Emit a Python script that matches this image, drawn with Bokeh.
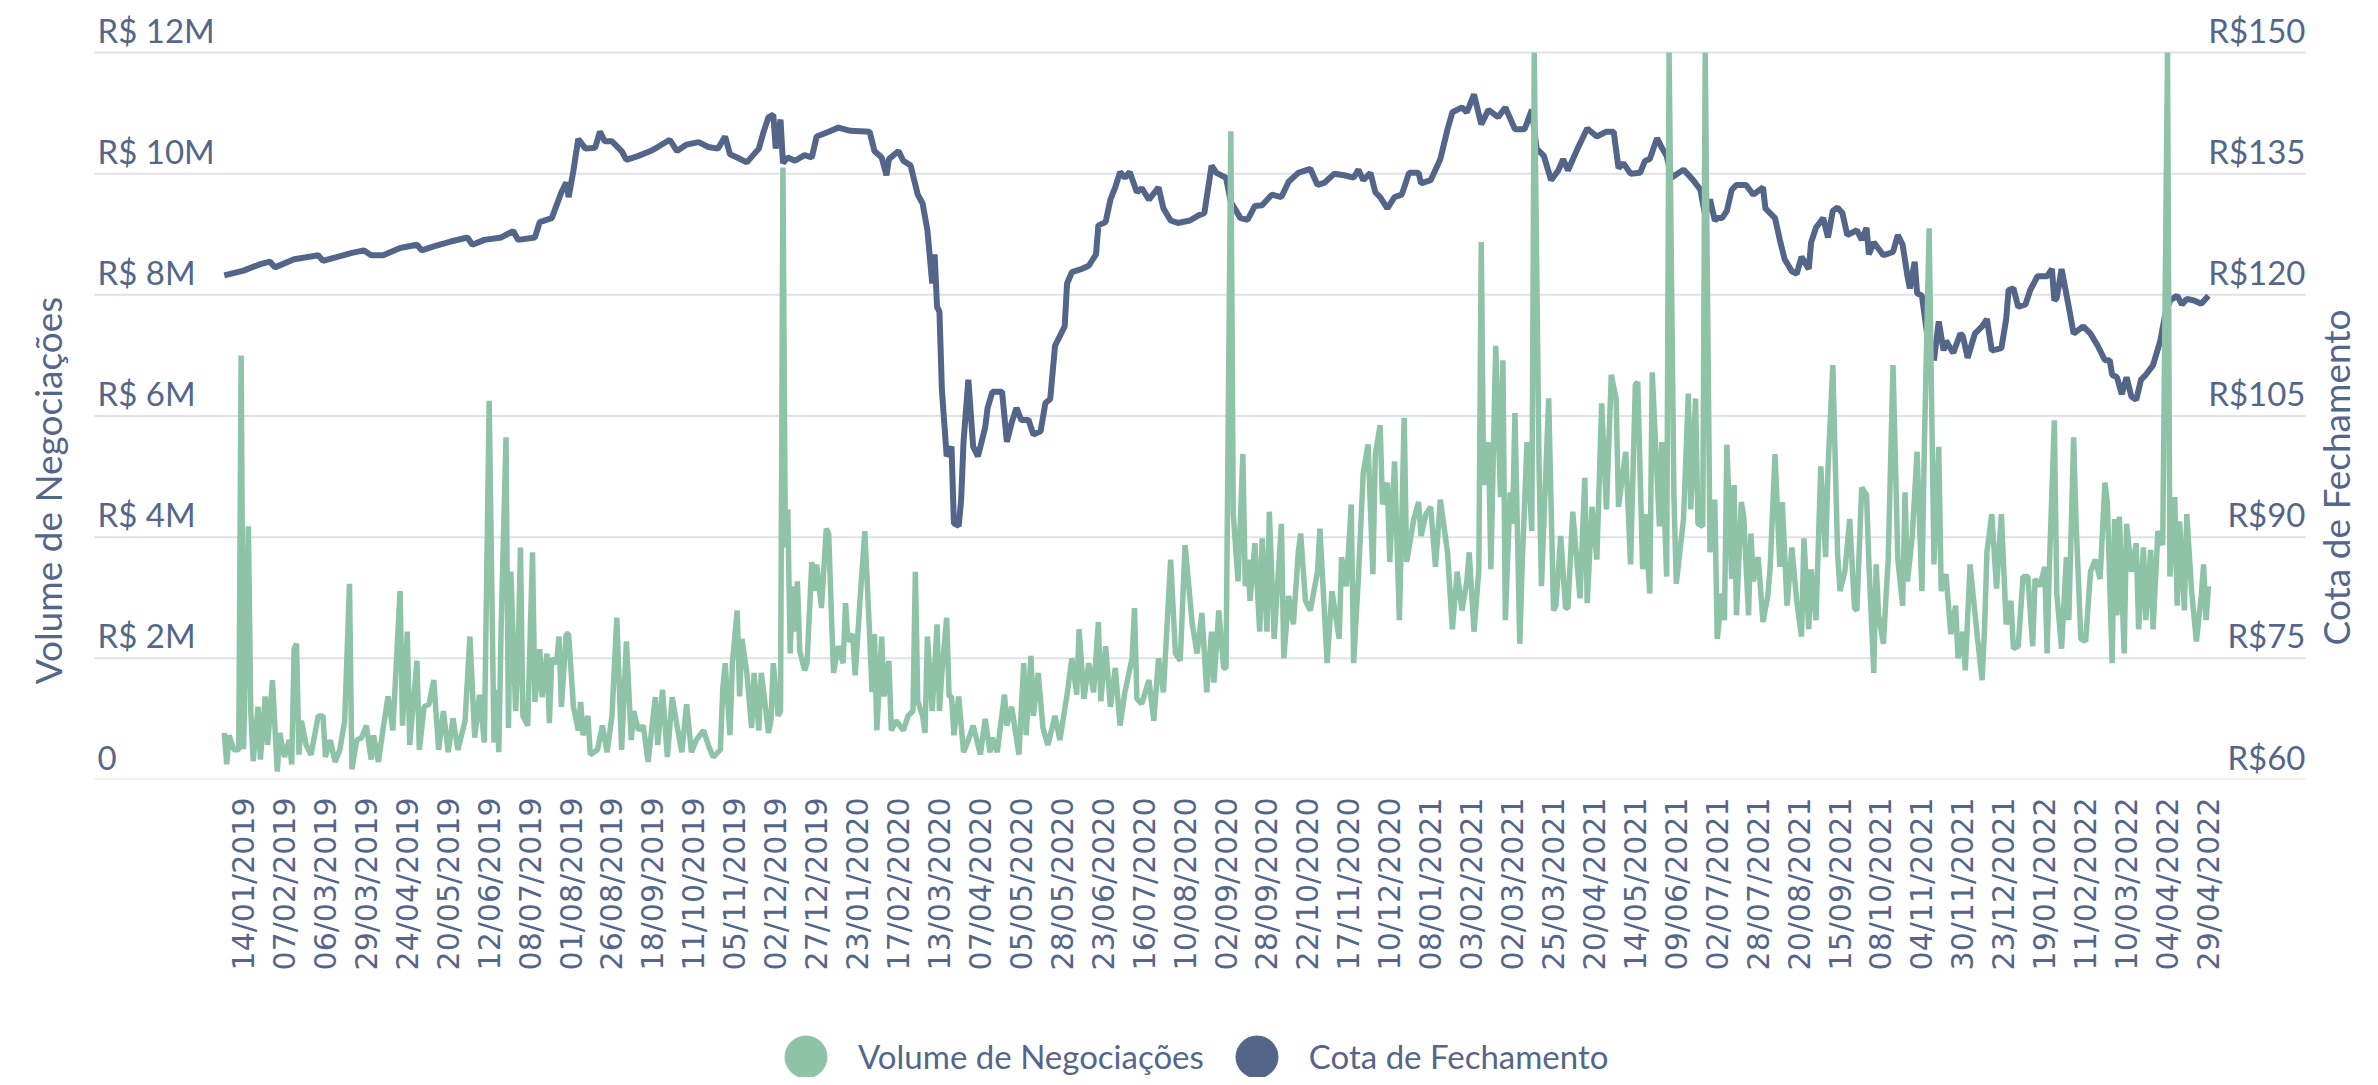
import math
from bokeh.plotting import figure
from bokeh.layouts import column
from bokeh.models import (Range1d, FixedTicker, ColumnDataSource, LabelSet, Label,
                          Legend, LegendItem)
from bokeh.core.properties import value
from bokeh.embed import file_html
from bokeh.resources import INLINE

# ---------------- dados ----------------
# rótulos do eixo x (um a cada 17 pregões, a partir do 9º pregão)
datas = ["14/01/2019", "07/02/2019", "06/03/2019", "29/03/2019", "24/04/2019", "20/05/2019",
         "12/06/2019", "08/07/2019", "01/08/2019", "26/08/2019", "18/09/2019", "11/10/2019",
         "05/11/2019", "02/12/2019", "27/12/2019", "23/01/2020", "17/02/2020", "13/03/2020",
         "07/04/2020", "05/05/2020", "28/05/2020", "23/06/2020", "16/07/2020", "10/08/2020",
         "02/09/2020", "28/09/2020", "22/10/2020", "17/11/2020", "10/12/2020", "08/01/2021",
         "03/02/2021", "02/03/2021", "25/03/2021", "20/04/2021", "14/05/2021", "09/06/2021",
         "02/07/2021", "28/07/2021", "20/08/2021", "15/09/2021", "08/10/2021", "04/11/2021",
         "30/11/2021", "23/12/2021", "19/01/2022", "11/02/2022", "10/03/2022", "04/04/2022",
         "29/04/2022"]
pregao_rotulos = [8 + 17 * i for i in range(len(datas))]

# volume de negociações (R$ milhões) por número do pregão
# (os picos marcados 12.0 chegam ao topo do eixo, R$ 12M, onde aparecem cortados)
vol_pregao = [
    0, 1, 2, 4, 6, 7, 8, 10, 11, 12, 14, 15, 17, 18, 20, 21, 22, 23, 25, 27,
    28, 29, 30, 31, 32, 34, 36, 39, 41, 42, 44, 46, 48, 50, 52, 53, 55, 57, 59, 61,
    62, 64, 66, 68, 70, 73, 74, 76, 77, 80, 81, 83, 85, 87, 89, 91, 93, 95, 97, 100,
    102, 104, 106, 108, 110, 112, 113, 114, 115, 117, 118, 119, 121, 122, 123, 124, 126, 128, 129, 131,
    132, 134, 135, 136, 138, 139, 140, 142, 143, 145, 147, 148, 149, 151, 152, 155, 157, 159, 161, 163,
    165, 167, 169, 170, 172, 174, 176, 179, 180, 182, 184, 186, 188, 190, 192, 194, 196, 199, 201, 203,
    206, 207,
    208, 210, 211, 213, 214, 215, 217, 219, 220, 222, 223, 224, 226, 227, 228, 230, 231, 232, 233, 234,
    235, 236, 237, 238, 239, 241, 242, 244, 245, 246, 248, 250, 251, 252, 253, 255, 257, 258, 259, 261,
    262, 264, 266, 268, 269, 270, 271, 273, 274, 276, 277, 279, 282, 284, 286, 287, 288, 290, 291, 292,
    294, 296, 297, 298, 300, 301, 302, 303, 305, 307, 309, 311, 314, 316, 318, 319, 321, 324, 325, 327,
    330, 332, 333, 335, 336, 338, 340, 342, 345, 347, 350, 352, 354, 355, 357, 359, 361, 363, 364, 366,
    368, 370, 372, 374, 377, 378, 379, 381, 384, 386, 388, 390, 393, 395, 397, 399, 402, 404, 406, 408,
    410, 411, 413, 415,
    416, 418, 419, 421, 423, 424, 425, 426, 428, 430, 431, 433, 434, 436, 439, 440, 442, 444, 446, 447,
    449, 451, 454, 455, 458, 460, 463, 464, 466, 468, 469, 471, 473, 475, 477, 478, 480, 481, 483, 484,
    486, 488, 490, 491, 494, 496, 497, 499, 501, 503, 505, 508, 510, 512, 514, 516, 517, 519, 521, 522,
    523, 525, 526, 528, 530, 531, 532, 534, 535, 536, 538, 539, 541, 543, 544, 546, 547, 550, 552, 553,
    555, 557, 558, 560, 563, 565, 566, 568, 570, 572, 574, 576, 578, 579, 582, 584, 586, 587, 589, 590,
    592, 593, 595, 596, 597, 599, 600, 602, 603, 606, 608, 609, 611, 612, 614, 615, 617, 619, 620, 622,
    623, 624, 626, 627, 628, 630, 631, 633, 634, 635, 637, 639, 641, 642, 644, 646, 647, 649, 651, 653,
    655, 656, 658, 659, 661, 663, 665, 666, 668, 670, 671, 673, 675, 677, 678, 680, 682, 683, 685, 686,
    687, 689, 690, 691, 693, 695, 697, 698, 699, 701, 703, 705, 706, 708, 710, 712, 713, 715, 717, 719,
    720, 722, 723, 725, 728, 730, 731, 732, 734, 736, 738, 740, 742, 743, 745, 747, 749, 751, 752, 754,
    756, 757, 758, 760, 761, 763, 765, 766, 768, 769, 771, 773, 775, 777, 779, 781, 782, 784, 785, 786,
    787, 789, 790, 792, 794, 795, 797, 798, 800, 801, 803, 805, 807, 808, 810, 811, 812, 814, 815, 817,
    819, 821, 822, 823, 824,
]
vol_mi = [
    0.77, 0.25, 0.73, 0.49, 0.49, 7.0, 0.5, 4.18, 1.13, 0.3, 1.2, 0.33, 1.37, 0.57, 1.64, 0.89, 0.13, 0.77, 0.37, 0.65,
    0.25, 2.16, 2.24, 0.41, 0.97, 0.57, 0.41, 1.05, 1.05, 0.37, 0.65, 0.29, 0.49, 0.97, 3.23, 0.17, 0.65, 0.69, 0.89, 0.33,
    0.73, 0.29, 0.85, 1.37, 0.81, 3.11, 0.89, 2.44, 0.57, 1.96, 0.49, 1.2, 1.24, 1.64, 0.49, 1.13, 0.45, 1.01, 0.49, 0.97,
    2.36, 0.69, 1.4, 0.61, 6.25, 0.61, 1.48, 0.45, 2.56, 5.65, 0.85, 3.43, 1.13, 2.0, 3.83, 1.05, 0.89, 3.75, 1.28, 2.15,
    1.36, 2.08, 0.93, 2.0, 1.92, 2.36, 1.2, 2.4, 2.4, 1.2, 0.81, 1.28, 0.73, 1.05, 0.41, 0.49, 0.89, 0.45, 1.05, 2.67,
    0.49, 2.28, 0.65, 1.13, 0.81, 0.89, 0.29, 1.36, 0.57, 1.48, 0.37, 1.36, 0.89, 0.45, 1.24, 0.45, 0.65, 0.81, 0.57, 0.37,
    0.49, 1.48,
    1.92, 0.73, 1.92, 2.79, 1.37, 2.32, 1.76, 0.85, 1.76, 0.81, 1.76, 1.44, 0.77, 0.97, 1.92, 1.05, 1.13, 10.1, 3.83, 4.46,
    2.08, 3.19, 2.44, 3.27, 2.12, 1.8, 1.92, 3.59, 3.11, 3.55, 2.83, 4.14, 4.06, 2.87, 1.76, 2.2, 1.92, 2.91, 2.28, 2.4,
    1.72, 2.95, 4.1, 2.4, 1.44, 2.4, 0.81, 2.36, 1.37, 1.96, 0.81, 0.97, 0.81, 1.05, 1.13, 3.43, 1.29, 1.05, 0.77, 2.36,
    1.13, 2.56, 1.13, 1.76, 2.67, 1.37, 1.37, 0.73, 1.37, 0.45, 0.65, 0.89, 0.41, 1.0, 0.45, 0.69, 0.45, 1.4, 0.89, 1.2,
    0.41, 1.92, 0.73, 2.04, 1.05, 1.76, 0.85, 0.57, 1.05, 0.65, 1.4, 2.0, 1.4, 2.48, 1.33, 1.92, 1.44, 2.6, 1.29, 2.2,
    1.2, 1.84, 0.89, 1.44, 2.0, 2.83, 1.33, 1.25, 1.64, 0.97, 2.0, 1.44, 3.63, 2.08, 1.96, 3.87, 2.56, 2.08, 2.75, 1.44,
    2.44, 1.6, 2.79, 1.84,
    1.84, 10.7, 4.38, 3.27, 5.37, 3.19, 3.63, 2.95, 3.9, 2.44, 3.98, 2.44, 4.42, 2.32, 4.22, 2.0, 3.03, 2.56, 3.75, 4.06,
    2.95, 2.79, 3.43, 4.14, 1.92, 3.11, 2.32, 3.67, 3.19, 4.54, 1.92, 3.35, 5.06, 5.53, 3.39, 5.37, 5.85, 4.54, 4.9, 3.59,
    5.25, 2.63, 5.97, 3.59, 4.3, 4.58, 4.02, 4.38, 4.5, 3.51, 4.62, 3.75, 2.48, 3.43, 2.79, 3.27, 3.75, 2.44, 3.47, 8.87,
    4.86, 5.57, 3.47, 7.16, 4.66, 6.92, 2.63, 4.74, 4.22, 6.05, 2.24, 3.55, 5.57, 4.1, 12.0, 5.17, 3.19, 6.29, 2.79, 2.87,
    4.02, 2.83, 2.83, 4.42, 2.99, 4.98, 2.91, 4.5, 3.63, 6.21, 4.46, 6.68, 6.29, 4.5, 5.41, 3.55, 6.52, 6.56, 3.47, 4.38,
    3.07, 6.72, 5.02, 4.18, 5.57, 3.35, 12.0, 4.7, 3.23, 4.3, 6.37, 4.46, 6.29, 4.22, 4.18, 12.0, 3.75, 4.62, 2.32, 3.07,
    2.63, 5.53, 3.31, 4.86, 2.71, 4.58, 4.34, 2.71, 4.06, 3.27, 3.67, 2.6, 3.03, 3.51, 5.37, 3.51, 4.58, 2.87, 3.83, 2.95,
    2.36, 3.98, 2.48, 3.47, 2.63, 5.17, 3.67, 5.13, 6.84, 3.71, 3.11, 3.43, 4.3, 2.83, 2.79, 4.82, 4.7, 3.55, 1.76, 3.55,
    2.71, 2.24, 2.95, 3.63, 6.84, 3.63, 2.87, 4.74, 3.27, 4.02, 5.41, 3.11, 5.49, 9.1, 3.55, 5.49, 3.11, 3.39, 2.4, 2.87,
    2.0, 2.44, 1.8, 3.55, 2.36, 1.64, 2.48, 3.75, 4.38, 3.15, 4.38, 2.56, 2.95, 2.16, 2.2, 3.35, 3.35, 2.2, 3.31, 3.19,
    3.51, 2.08, 3.59, 5.93, 3.07, 2.16, 3.67, 2.63, 5.65, 4.26, 2.32, 2.28, 3.43, 3.63, 3.31, 4.9, 4.58, 1.92, 4.3, 2.71,
    4.34, 2.08, 4.22, 3.43, 3.9, 2.48, 3.83, 2.63, 3.79, 2.48, 4.1, 3.87, 12.0, 3.35, 4.66, 2.87, 4.26, 2.79, 4.38, 3.11,
    2.28, 3.03, 3.55, 2.63, 3.19,
]

# cota de fechamento (R$) por número do pregão
cota_pregao = [
    0, 8, 15, 19, 21, 29, 39, 41, 53, 58, 61, 66, 73, 80, 82, 87, 94, 101, 103, 108,
    115, 120, 122, 129, 131, 136, 140, 142, 143, 145, 147, 150, 154, 156, 158, 161, 165, 167, 172, 177,
    180, 185, 188, 192, 197, 201,
    205, 208, 210, 213, 217, 222, 224, 226, 228, 229, 231, 232, 234, 237, 241, 244, 246, 251, 255, 260,
    268, 270, 273, 275, 276, 280, 282, 285, 288, 290, 292, 294, 295, 296, 297, 298, 300, 302, 303, 305,
    306, 307, 309, 311, 313, 316, 317, 319, 323, 325, 327, 329, 331, 334, 336, 339, 341, 343, 345, 349,
    350, 352, 356, 359, 362, 363, 366, 368, 370, 372, 374, 376, 379, 381, 384, 388, 390, 393, 396, 401,
    405, 407, 410, 412,
    416, 418, 422, 425, 428, 431, 435, 439, 442, 446, 451, 454, 457, 461, 465, 469, 471, 473, 476, 478,
    480, 483, 486, 489, 492, 496, 497, 501, 505, 508, 510, 514, 516, 519, 522, 525, 529, 532, 536, 540,
    543, 545, 548, 551, 554, 556, 558, 562, 566, 570, 574, 577, 579, 581, 584, 588, 590, 592, 595, 597,
    599, 601, 606, 610, 613, 615, 617, 619,
    620, 622, 624, 626, 628, 632, 635, 639, 640, 644, 646, 648, 651, 653, 655, 658, 659, 661, 664, 666,
    668, 670, 672, 674, 678, 680, 682, 683, 685, 689, 693, 695, 697, 699, 700, 702, 703, 705, 707, 710,
    712, 714, 715, 718, 721, 722, 724, 727, 730, 732, 734, 738, 740, 741, 743, 745, 748, 750, 753, 757,
    759, 760, 761, 763, 766, 768, 772, 775, 778, 781, 783, 784, 786, 788, 790, 792, 794, 796, 798, 801,
    804, 806, 808, 811, 813, 815, 818, 821, 824,
]
cota = [
    122.4, 123.0, 123.8, 124.1, 123.4, 124.4, 124.9, 124.2, 125.2, 125.5, 124.9, 124.9, 125.8, 126.2, 125.5, 126.0, 126.6, 127.1, 126.2, 126.8,
    127.1, 127.9, 126.8, 127.1, 129.0, 129.5, 132.7, 133.9, 132.1, 135.4, 139.3, 138.1, 138.2, 140.2, 139.0, 139.0, 137.8, 136.7, 137.2, 137.8,
    138.3, 139.2, 137.8, 138.6, 138.9, 138.3,
    138.1, 139.6, 137.4, 137.0, 136.4, 138.1, 140.2, 142.0, 142.3, 138.1, 141.7, 136.3, 137.0, 136.6, 137.3, 137.0, 139.6, 140.2, 140.7, 140.3,
    140.2, 137.8, 137.0, 134.8, 136.8, 137.8, 136.6, 136.0, 132.4, 131.3, 128.0, 121.4, 125.0, 118.5, 117.9, 108.3, 100.0, 101.2, 91.7, 91.4,
    94.6, 101.8, 109.5, 101.2, 100.0, 103.6, 106.0, 108.0, 108.0, 101.8, 104.2, 106.0, 104.5, 104.5, 102.7, 103.1, 106.6, 107.1, 113.7, 116.1,
    121.4, 122.8, 123.2, 123.6, 125.0, 128.6, 129.0, 131.8, 133.3, 135.2, 134.5, 135.2, 132.7, 133.2, 131.8, 133.3, 130.7, 129.2, 128.9, 129.2,
    129.9, 130.1, 136.0, 135.1,
    134.5, 131.5, 129.5, 129.3, 131.0, 131.1, 132.4, 132.1, 134.0, 135.1, 135.6, 133.6, 133.9, 135.0, 134.8, 134.5, 135.5, 134.2, 135.1, 132.7,
    132.1, 130.7, 132.1, 132.4, 135.1, 135.1, 133.8, 134.2, 136.8, 140.5, 142.6, 143.2, 142.6, 144.8, 141.1, 142.9, 142.0, 143.2, 140.5, 140.5,
    142.9, 138.1, 137.2, 134.2, 135.4, 136.8, 135.4, 138.1, 140.6, 139.6, 140.2, 140.2, 135.7, 136.3, 135.0, 135.1, 136.6, 136.8, 139.4, 138.2,
    137.2, 134.5, 135.5, 134.2, 133.0, 129.8, 131.8, 129.2,
    129.5, 129.5, 130.4, 133.0, 133.6, 133.6, 132.4, 133.3, 130.7, 129.5, 126.8, 124.4, 122.9, 122.6, 124.7, 123.2, 126.5, 128.3, 129.5, 127.1,
    130.4, 130.8, 130.1, 127.4, 128.0, 126.8, 128.3, 125.0, 126.5, 124.9, 125.3, 127.4, 126.2, 122.3, 120.8, 124.1, 120.2, 119.9, 115.5, 111.9,
    116.7, 113.1, 114.3, 112.8, 115.2, 114.9, 112.2, 115.2, 116.1, 117.0, 113.1, 113.4, 117.0, 120.6, 120.8, 118.5, 118.8, 120.6, 122.3, 122.3,
    123.2, 119.3, 119.6, 123.2, 118.5, 115.2, 116.1, 115.2, 113.7, 111.9, 111.9, 110.1, 109.8, 107.7, 109.8, 107.4, 107.0, 109.5, 110.1, 111.3,
    114.3, 117.5, 119.3, 119.9, 118.8, 119.5, 119.3, 118.9, 119.9,
]
assert len(vol_pregao) == len(vol_mi)
assert len(cota_pregao) == len(cota)

vol_ticks = [0, 2, 4, 6, 8, 10, 12]
vol_rotulos = ["0", "R$ 2M", "R$ 4M", "R$ 6M", "R$ 8M", "R$ 10M", "R$ 12M"]
cota_ticks = [60, 75, 90, 105, 120, 135, 150]
cota_rotulos = ["R$60", "R$75", "R$90", "R$105", "R$120", "R$135", "R$150"]
series = ["Volume de Negociações", "Cota de Fechamento"]

# ---------------- estilo / layout ----------------
VERDE = "#8fc3a7"
AZUL = "#536689"
TEXTO = "#546689"
GRADE = "#dfe2e8"
FONTE = "Lato"

W = 2362            # largura útil da janela
H1, H2 = 1000, 77   # gráfico + faixa da legenda (total 1077)
B_INF = 221         # faixa do eixo x abaixo da área
# área de plotagem visível (px da tela do gráfico)
A_ESQ, A_DIR, A_SUP, A_INF = 94, 2305, 52, H1 - B_INF
P_INI, P_FIM = -53.9, 864.3          # pregões nas bordas da área
PX_X = (A_DIR - A_ESQ) / (P_FIM - P_INI)
PX_V = (A_INF - A_SUP) / (vol_ticks[-1] - vol_ticks[0])
PX_C = (A_INF - A_SUP) / (cota_ticks[-1] - cota_ticks[0])

X_INI = P_INI - A_ESQ / PX_X
X_FIM = P_FIM + (W - A_DIR) / PX_X

p = figure(width=W, height=H1,
           x_range=Range1d(X_INI, X_FIM),
           y_range=Range1d(vol_ticks[0], vol_ticks[-1] + A_SUP / PX_V),
           y_axis_location=None,
           output_backend="svg", toolbar_location=None,
           min_border_left=0, min_border_right=0,
           min_border_top=0, min_border_bottom=B_INF)
p.extra_y_ranges = {"cota": Range1d(cota_ticks[0], cota_ticks[-1] + A_SUP / PX_C)}
p.outline_line_color = None
p.background_fill_color = "white"
p.border_fill_color = "white"
p.xgrid.visible = False
p.ygrid.visible = False

# linhas de grade horizontais (limitadas à área de plotagem)
p.segment(x0=P_INI, x1=P_FIM, y0=vol_ticks, y1=vol_ticks,
          line_color=GRADE, line_width=2)

# eixo x
ax = p.xaxis[0]
ax.ticker = FixedTicker(ticks=pregao_rotulos)
ax.major_label_overrides = {t: d for t, d in zip(pregao_rotulos, datas)}
ax.major_label_orientation = math.pi / 2
ax.major_label_text_font = "DejaVu Sans"
ax.major_label_text_font_size = "30px"
ax.major_label_text_color = TEXTO
ax.axis_line_color = None
ax.major_tick_line_color = None
ax.minor_tick_line_color = None
ax.major_tick_out = 0
ax.minor_tick_out = 0
ax.major_label_standoff = 18

# séries
p.line(cota_pregao, cota, y_range_name="cota", line_color=AZUL, line_width=6)
p.line(vol_pregao, vol_mi, line_color=VERDE, line_width=5.5)

# rótulos dos eixos y (acima das linhas de grade)
src_vol = ColumnDataSource(dict(y=vol_ticks, text=vol_rotulos))
p.add_layout(LabelSet(x=P_INI, y="y", text="text", source=src_vol,
                      x_offset=3, y_offset=10, text_align="left", text_baseline="alphabetic",
                      text_font=value(FONTE), text_font_size="33px", text_color=TEXTO))
src_cota = ColumnDataSource(dict(y=cota_ticks, text=cota_rotulos))
p.add_layout(LabelSet(x=P_FIM, y="y", text="text", source=src_cota, y_range_name="cota",
                      x_offset=0, y_offset=10, text_align="right", text_baseline="alphabetic",
                      text_font=value(FONTE), text_font_size="33px", text_color=TEXTO))

# títulos dos eixos
p.add_layout(Label(x=P_INI - 47 / PX_X, y=vol_ticks[0] + 289 / PX_V,
                   text=series[0], angle=math.pi / 2,
                   text_align="center", text_baseline="middle",
                   text_font=FONTE, text_font_size="37px", text_color=TEXTO))
p.add_layout(Label(x=P_FIM + 30 / PX_X, y=vol_ticks[0] + 302 / PX_V,
                   text=series[1], angle=math.pi / 2,
                   text_align="center", text_baseline="middle",
                   text_font=FONTE, text_font_size="37px", text_color=TEXTO))

# ---------------- legenda (faixa inferior, cortada na borda como no original) ----------------
q = figure(width=W, height=H2, x_range=Range1d(0, 1), y_range=Range1d(0, 1),
           x_axis_location=None, y_axis_location=None,
           output_backend="svg", toolbar_location=None,
           min_border_left=0, min_border_right=0, min_border_top=0, min_border_bottom=0)
q.outline_line_color = None
q.xgrid.visible = False
q.ygrid.visible = False
q.background_fill_color = "white"
q.border_fill_color = "white"
# marcadores só para a legenda (ponto fora da área visível)
leg_v = q.scatter([-5], [-5], marker="circle", size=42, color=VERDE)
leg_c = q.scatter([-5], [-5], marker="circle", size=42, color=AZUL)
legenda = Legend(items=[LegendItem(label=series[0], renderers=[leg_v]),
                        LegendItem(label=series[1], renderers=[leg_c])],
                 orientation="horizontal", location=(753, -31.5),
                 glyph_width=105, glyph_height=105, label_standoff=0, spacing=0,
                 padding=0, margin=0, border_line_color=None, background_fill_alpha=0,
                 label_text_font=FONTE, label_text_font_size="33px", label_text_color=TEXTO)
q.add_layout(legenda)

layout = column(p, q, spacing=0)
open("out.html", "w").write(file_html(layout, INLINE))
